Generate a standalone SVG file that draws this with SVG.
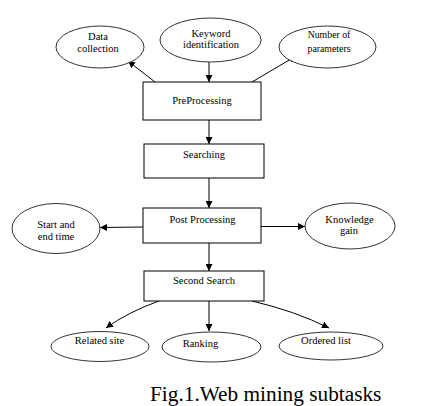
<svg xmlns="http://www.w3.org/2000/svg" width="434" height="406" viewBox="0 0 434 406" font-family="Liberation Serif, serif">
<style>
.n{fill:#fff;stroke:#000;stroke-width:1}
.e{fill:#fff;stroke:#333;stroke-width:1}
text{font-family:'Liberation Serif',serif;fill:#000}
.t{font-size:10.5px;text-anchor:middle}
.s{font-size:9.8px}
.c{stroke:#000;stroke-width:1;fill:none;marker-end:url(#a)}
</style>
<defs>
<marker id="a" viewBox="0 0 10 10" refX="10" refY="5" markerWidth="7" markerHeight="7" markerUnits="userSpaceOnUse" orient="auto">
<path d="M0,0L10,5L0,10z" fill="#000"/>
</marker>
</defs>
<rect width="434" height="406" fill="#fff"/>
<g id="connectors">
<path class="c" d="M155,82L128,61"/>
<path class="c" d="M209,62L209,82"/>
<path class="c" d="M252,82L296,56"/>
<path class="c" d="M209,120L209,144"/>
<path class="c" d="M209,178L209,208"/>
<path class="c" d="M143,227L100,227.5"/>
<path class="c" d="M261,226.5L305,226.5"/>
<path class="c" d="M209,243L209,271"/>
<path class="c" d="M159,301Q128,312 106,328"/>
<path class="c" d="M209,301L209,331"/>
<path class="c" d="M252,301Q295,311 329,328"/>
</g>
<g id="data-collection"><ellipse class="e" cx="100" cy="47" rx="44" ry="21"/><text class="t" x="98" y="40">Data</text><text class="t" x="98" y="52">collection</text></g>
<g id="keyword-identification"><ellipse class="e" cx="210.5" cy="40" rx="50.5" ry="22"/><text class="t" x="211" y="36.5">Keyword</text><text class="t" x="211" y="48">identification</text></g>
<g id="number-of-parameters"><ellipse class="e" cx="327.5" cy="47" rx="48.5" ry="21"/><text class="t s" x="329" y="38">Number of</text><text class="t s" x="329" y="51.5">parameters</text></g>
<g id="preprocessing"><rect class="n" x="143" y="82" width="118" height="38"/><text class="t" x="202" y="104">PreProcessing</text></g>
<g id="searching"><rect class="n" x="144" y="144" width="120" height="34"/><text class="t" x="204" y="158">Searching</text></g>
<g id="post-processing"><rect class="n" x="143" y="208" width="118" height="35"/><text class="t" x="202.5" y="222.5">Post Processing</text></g>
<g id="start-end-time"><ellipse class="e" cx="56" cy="228.5" rx="44" ry="25"/><text class="t" x="56" y="227.5">Start and</text><text class="t" x="56" y="240">end time</text></g>
<g id="knowledge-gain"><ellipse class="e" cx="350" cy="226" rx="45" ry="23"/><text class="t" x="349.5" y="222.5">Knowledge</text><text class="t" x="349" y="234">gain</text></g>
<g id="second-search"><rect class="n" x="144" y="271" width="120" height="30"/><text class="t" x="204" y="283.5">Second Search</text></g>
<g id="related-site"><ellipse class="e" cx="100" cy="346.5" rx="49" ry="15"/><text class="t" x="99.5" y="344">Related site</text></g>
<g id="ranking"><ellipse class="e" cx="211.5" cy="347" rx="49.5" ry="15"/><text class="t" x="200.5" y="347">Ranking</text></g>
<g id="ordered-list"><ellipse class="e" cx="331" cy="346" rx="52" ry="14"/><text class="t" x="326" y="344">Ordered list</text></g>
<text x="150" y="401" font-size="21.3">Fig.1.Web mining subtasks</text>
</svg>
